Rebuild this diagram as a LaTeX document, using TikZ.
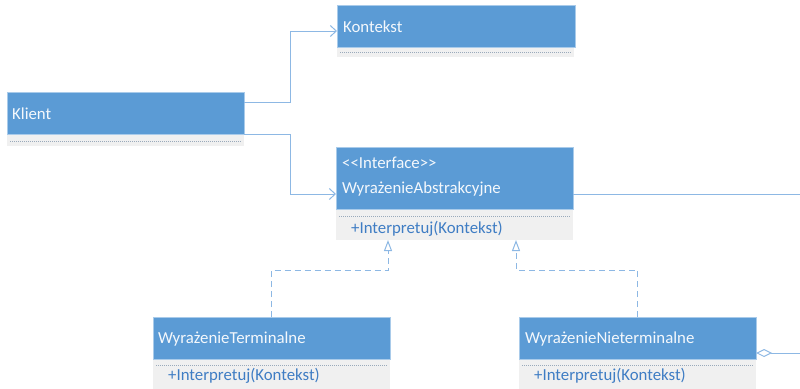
\documentclass[tikz,border=0pt]{standalone}
\usepackage{fontspec}
\setmainfont{Carlito}
\usetikzlibrary{arrows.meta}
\definecolor{hdrblue}{HTML}{5B9BD5}
\definecolor{hdredge}{HTML}{A9CBEA}
\definecolor{compgray}{HTML}{F0F0F0}
\definecolor{linkblue}{HTML}{8DB8E4}
\definecolor{opblue}{HTML}{3F7DC4}
\definecolor{dotgray}{HTML}{9AAABB}
\definecolor{hdrtext}{HTML}{F4F8FC}
\begin{document}
\begin{tikzpicture}[x=1pt,y=-1pt,
  hdr/.style={draw=hdredge, fill=hdrblue, line width=0.8pt, minimum width=237pt,
    anchor=north west, inner sep=0pt, outer sep=0pt},
  comp/.style={fill=compgray, minimum width=237pt, anchor=north west,
    inner sep=0pt, outer sep=0pt},
  htext/.style={anchor=base west, inner sep=0pt, text=hdrtext,
    font=\fontsize{16.8}{20}\selectfont},
  optext/.style={anchor=base west, inner sep=0pt, text=opblue,
    font=\fontsize{16.8}{20}\selectfont},
  sep/.style={draw=dotgray, line width=0.6pt, dash pattern=on 1pt off 1pt},
  link/.style={draw=linkblue, line width=1pt},
  assoc/.style={link, -{Straight Barb[length=6pt,width=11pt,line width=1pt]}},
  realize/.style={link, dash pattern=on 6pt off 4pt,
    -{Triangle[open,length=11pt,width=8pt,fill=white,line width=1pt]}},
  aggr/.style={link, {Diamond[open,length=16pt,width=8pt,fill=white,line width=1pt]}-}]

\useasboundingbox (0,0) rectangle (800,388);

% Klient
\node[comp, minimum height=12pt] (klientC) at (7,134) {};
\node[hdr, minimum height=42pt] (klient) at (7,92) {};
\node[htext] (klientT) at (12,119) {Klient};
\draw[sep] ([xshift=3pt,yshift=-1pt]klientC.west) -- ([xshift=-3pt,yshift=-1pt]klientC.east);

% Kontekst
\node[comp, minimum height=10pt] (kontC) at (337,47) {};
\node[hdr, minimum height=42pt, minimum width=238pt] (kont) at (337,5) {};
\node[htext] (kontT) at (343,32) {Kontekst};
\draw[sep] ([xshift=3pt]kontC.west) -- ([xshift=-3pt]kontC.east);

% Interface
\node[comp, minimum height=31pt] (ifaceC) at (336,209) {};
\node[hdr, minimum height=62pt] (iface) at (336,147) {};
\node[htext] (ifaceS) at (342,168) {<\kern0pt<Interface>\kern0pt>};
\node[htext] (ifaceT) at (342,193) {WyrażenieAbstrakcyjne};
\draw[sep] ([xshift=3pt,yshift=-7pt]ifaceC.north west) -- ([xshift=-3pt,yshift=-7pt]ifaceC.north east);
\node[optext] (ifaceOp) at (351,233) {+Interpretuj(Kontekst)};

% WyrazenieTerminalne
\node[comp, minimum height=40pt] (termC) at (153,359) {};
\node[hdr, minimum height=42pt] (term) at (153,317) {};
\node[htext] (termT) at (158,343) {WyrażenieTerminalne};
\draw[sep] ([xshift=3pt,yshift=-6pt]termC.north west) -- ([xshift=-3pt,yshift=-6pt]termC.north east);
\node[optext] (termOp) at (168,380) {+Interpretuj(Kontekst)};

% WyrazenieNieterminalne
\node[comp, minimum height=40pt] (ntermC) at (519,359) {};
\node[hdr, minimum height=42pt] (nterm) at (519,317) {};
\node[htext] (ntermT) at (525,343) {WyrażenieNieterminalne};
\draw[sep] ([xshift=3pt,yshift=-6pt]ntermC.north west) -- ([xshift=-3pt,yshift=-6pt]ntermC.north east);
\node[optext] (ntermOp) at (534,380) {+Interpretuj(Kontekst)};

% associations from Klient
\draw[assoc] ([yshift=11pt]klient.east) -- ++(46,0) |- ([yshift=-5pt]kont.west);
\draw[assoc] (klient.south east) -- ++(46,0) |- ([yshift=-16pt]iface.west);

% realizations of the interface
\draw[realize] (term.north) -- ++(0,-47) -| ([xshift=-66.5pt]ifaceC.south);
\draw[realize] (nterm.north) -- ++(0,-47) -| ([xshift=61.5pt]ifaceC.south);

% aggregation back to the interface
\draw[aggr] ([yshift=-15pt]nterm.east) -- ++(70,0) |- ([yshift=-16pt]iface.east);

\end{tikzpicture}
\end{document}
